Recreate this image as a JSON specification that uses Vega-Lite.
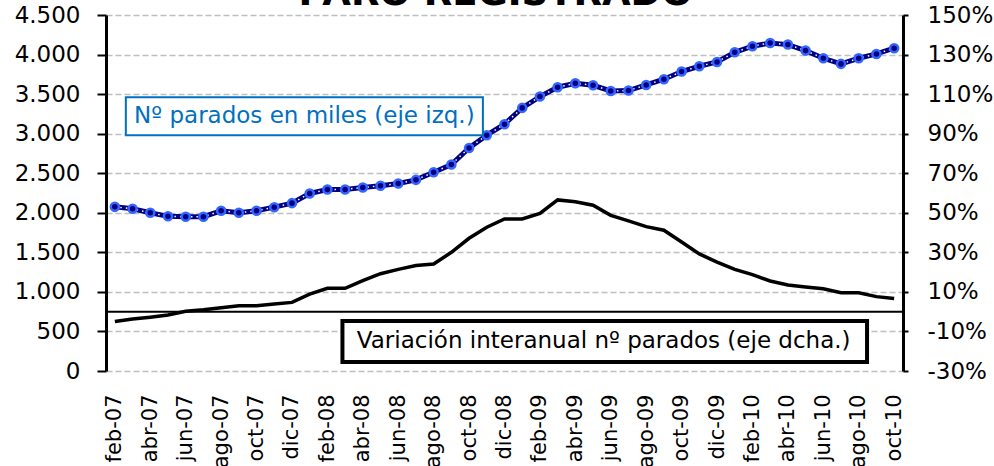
{
  "$schema": "https://vega.github.io/schema/vega-lite/v6.json",
  "width": 797,
  "height": 356,
  "autosize": {"type": "none"},
  "padding": {"left": 106, "top": 15, "right": 91, "bottom": 95},
  "background": "white",
  "config": {
    "view": {"stroke": null},
    "font": "DejaVu Sans",
    "axis": {"labelOverlap": false, "labelBound": false, "labelFlush": false},
    "locale": {"number": {"decimal": ",", "thousands": ".", "grouping": [3], "currency": ["", " €"]}}
  },
  "datasets": {
    "serie": [
      {"i": 0, "mes": "feb-07", "parados": 2075, "var": -5.0},
      {"i": 1, "mes": "mar-07", "parados": 2050, "var": -3.7},
      {"i": 2, "mes": "abr-07", "parados": 2000, "var": -2.8},
      {"i": 3, "mes": "may-07", "parados": 1955, "var": -1.7},
      {"i": 4, "mes": "jun-07", "parados": 1950, "var": 0.2},
      {"i": 5, "mes": "jul-07", "parados": 1950, "var": 1.0},
      {"i": 6, "mes": "ago-07", "parados": 2025, "var": 2.0},
      {"i": 7, "mes": "sep-07", "parados": 2000, "var": 3.0},
      {"i": 8, "mes": "oct-07", "parados": 2025, "var": 3.0},
      {"i": 9, "mes": "nov-07", "parados": 2071, "var": 3.9},
      {"i": 10, "mes": "dic-07", "parados": 2122, "var": 4.7},
      {"i": 11, "mes": "ene-08", "parados": 2244, "var": 8.9},
      {"i": 12, "mes": "feb-08", "parados": 2295, "var": 11.8},
      {"i": 13, "mes": "mar-08", "parados": 2295, "var": 11.8},
      {"i": 14, "mes": "abr-08", "parados": 2320, "var": 15.7},
      {"i": 15, "mes": "may-08", "parados": 2341, "var": 19.2},
      {"i": 16, "mes": "jun-08", "parados": 2370, "var": 21.4},
      {"i": 17, "mes": "jul-08", "parados": 2416, "var": 23.3},
      {"i": 18, "mes": "ago-08", "parados": 2513, "var": 24.1},
      {"i": 19, "mes": "sep-08", "parados": 2610, "var": 30.0},
      {"i": 20, "mes": "oct-08", "parados": 2820, "var": 37.1},
      {"i": 21, "mes": "nov-08", "parados": 2981, "var": 42.7},
      {"i": 22, "mes": "dic-08", "parados": 3120, "var": 46.9},
      {"i": 23, "mes": "ene-09", "parados": 3326, "var": 46.9},
      {"i": 24, "mes": "feb-09", "parados": 3469, "var": 49.7},
      {"i": 25, "mes": "mar-09", "parados": 3587, "var": 56.5},
      {"i": 26, "mes": "abr-09", "parados": 3637, "var": 55.6},
      {"i": 27, "mes": "may-09", "parados": 3612, "var": 53.8},
      {"i": 28, "mes": "jun-09", "parados": 3540, "var": 48.7},
      {"i": 29, "mes": "jul-09", "parados": 3545, "var": 45.9},
      {"i": 30, "mes": "ago-09", "parados": 3616, "var": 43.0},
      {"i": 31, "mes": "sep-09", "parados": 3688, "var": 41.2},
      {"i": 32, "mes": "oct-09", "parados": 3785, "var": 35.2},
      {"i": 33, "mes": "nov-09", "parados": 3852, "var": 29.2},
      {"i": 34, "mes": "dic-09", "parados": 3907, "var": 25.1},
      {"i": 35, "mes": "ene-10", "parados": 4029, "var": 21.4},
      {"i": 36, "mes": "feb-10", "parados": 4105, "var": 18.7},
      {"i": 37, "mes": "mar-10", "parados": 4147, "var": 15.5},
      {"i": 38, "mes": "abr-10", "parados": 4126, "var": 13.5},
      {"i": 39, "mes": "may-10", "parados": 4050, "var": 12.5},
      {"i": 40, "mes": "jun-10", "parados": 3953, "var": 11.6},
      {"i": 41, "mes": "jul-10", "parados": 3882, "var": 9.6},
      {"i": 42, "mes": "ago-10", "parados": 3953, "var": 9.6},
      {"i": 43, "mes": "sep-10", "parados": 4008, "var": 7.6},
      {"i": 44, "mes": "oct-10", "parados": 4080, "var": 6.6}
    ]
  },
  "layer": [
    {
      "layer": [
        {
          "data": {"name": "serie"},
          "mark": {"type": "line", "color": "#000080", "strokeWidth": 5},
          "encoding": {
            "x": {
              "field": "i", "type": "quantitative",
              "scale": {"domain": [-0.5, 44.5], "nice": false, "zero": false},
              "axis": {
                "values": [0, 2, 4, 6, 8, 10, 12, 14, 16, 18, 20, 22, 24, 26, 28, 30, 32, 34, 36, 38, 40, 42, 44],
                "tickCount": 100,
                "labelExpr": "['feb-07','mar-07','abr-07','may-07','jun-07','jul-07','ago-07','sep-07','oct-07','nov-07','dic-07','ene-08','feb-08','mar-08','abr-08','may-08','jun-08','jul-08','ago-08','sep-08','oct-08','nov-08','dic-08','ene-09','feb-09','mar-09','abr-09','may-09','jun-09','jul-09','ago-09','sep-09','oct-09','nov-09','dic-09','ene-10','feb-10','mar-10','abr-10','may-10','jun-10','jul-10','ago-10','sep-10','oct-10'][datum.value]",
                "labelAngle": 270, "labelFontSize": 21, "labelFont": "DejaVu Sans", "labelColor": "black",
                "domain": false, "ticks": false, "tickSize": 0, "grid": false, "labelPadding": 23,
                "labelOverlap": false, "title": null
              }
            },
            "y": {
              "field": "parados", "type": "quantitative",
              "scale": {"domain": [0, 4500], "nice": false, "zero": true},
              "axis": {
                "orient": "left", "values": [0, 500, 1000, 1500, 2000, 2500, 3000, 3500, 4000, 4500],
                "tickCount": 100,
                "format": ",.0f", "labelFontSize": 23, "labelFont": "DejaVu Sans", "labelColor": "black",
                "labelPadding": 17, "tickSize": 9, "tickWidth": 2, "tickColor": "black",
                "domainColor": "black", "domainWidth": 3, "labelOverlap": false,
                "grid": true, "gridColor": "#BFBFBF", "gridDash": [6, 3], "gridWidth": 1.5, "title": null
              }
            }
          }
        },
        {
          "data": {"name": "serie"},
          "mark": {"type": "line", "color": "white", "strokeWidth": 1.5, "strokeDash": [1.5, 4]},
          "encoding": {
            "x": {"field": "i", "type": "quantitative"},
            "y": {"field": "parados", "type": "quantitative"}
          }
        },
        {
          "data": {"name": "serie"},
          "mark": {"type": "point", "filled": true, "fill": "#000080", "stroke": "#3366FF", "strokeWidth": 2.5, "size": 65, "opacity": 1},
          "encoding": {
            "x": {"field": "i", "type": "quantitative"},
            "y": {"field": "parados", "type": "quantitative"}
          }
        },
        {
          "data": {"values": [{"nota": "PARO REGISTRADO"}]},
          "mark": {"type": "text", "font": "DejaVu Sans", "fontSize": 37, "fontWeight": "bold", "color": "black", "align": "center", "baseline": "alphabetic"},
          "encoding": {
            "x": {"datum": 21.5, "type": "quantitative"},
            "y": {"datum": 4630, "type": "quantitative"},
            "text": {"field": "nota"}
          }
        },
        {
          "data": {"values": [{"nota": "Nº parados en miles (eje izq.)"}]},
          "mark": {"type": "rect", "fill": "white", "stroke": "#0070C0", "strokeWidth": 2},
          "encoding": {
            "x": {"datum": 0.62, "type": "quantitative"},
            "x2": {"datum": 20.78},
            "y": {"datum": 2981, "type": "quantitative"},
            "y2": {"datum": 3461}
          }
        },
        {
          "data": {"values": [{"nota": "Nº parados en miles (eje izq.)"}]},
          "mark": {"type": "text", "font": "DejaVu Sans", "fontSize": 23, "color": "#0070C0", "align": "center", "baseline": "middle"},
          "encoding": {
            "x": {"datum": 10.7, "type": "quantitative"},
            "y": {"datum": 3221, "type": "quantitative"},
            "text": {"field": "nota"}
          }
        },
        {
          "data": {"values": [{"nota": "Variación interanual nº parados (eje dcha.)"}]},
          "mark": {"type": "rect", "fill": "white", "stroke": "black", "strokeWidth": 4},
          "encoding": {
            "x": {"datum": 12.85, "type": "quantitative"},
            "x2": {"datum": 42.47},
            "y": {"datum": 114, "type": "quantitative"},
            "y2": {"datum": 631}
          }
        },
        {
          "data": {"values": [{"nota": "Variación interanual nº parados (eje dcha.)"}]},
          "mark": {"type": "text", "font": "DejaVu Sans", "fontSize": 23, "color": "black", "align": "center", "baseline": "middle"},
          "encoding": {
            "x": {"datum": 27.6, "type": "quantitative"},
            "y": {"datum": 373, "type": "quantitative"},
            "text": {"field": "nota"}
          }
        }
      ]
    },
    {
      "layer": [
        {
          "data": {"values": [{"ref": 0}]},
          "mark": {"type": "rule", "color": "black", "strokeWidth": 2},
          "encoding": {
            "y": {"field": "ref", "type": "quantitative", "scale": {"domain": [-30, 150], "nice": false, "zero": false}}
          }
        },
        {
          "data": {"name": "serie"},
          "mark": {"type": "line", "color": "black", "strokeWidth": 3.5},
          "encoding": {
            "x": {"field": "i", "type": "quantitative"},
            "y": {
              "field": "var", "type": "quantitative",
              "scale": {"domain": [-30, 150], "nice": false, "zero": false},
              "axis": {
                "orient": "right", "values": [-30, -10, 10, 30, 50, 70, 90, 110, 130, 150],
                "tickCount": 100,
                "labelExpr": "datum.value + '%'", "labelFontSize": 23, "labelFont": "DejaVu Sans", "labelColor": "black",
                "labelPadding": 19, "tickSize": 5, "tickWidth": 2, "tickColor": "black", "labelOverlap": false,
                "domainColor": "black", "domainWidth": 3, "grid": false, "title": null
              }
            }
          }
        }
      ]
    }
  ],
  "resolve": {"scale": {"y": "independent"}, "axis": {"y": "independent"}}
}
